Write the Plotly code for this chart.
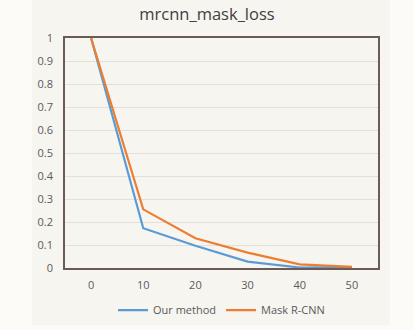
import plotly.graph_objects as go

epochs = [0, 10, 20, 30, 40, 50]
our_method = [1.0, 0.173, 0.097, 0.028, 0.002, 0.004]
mask_rcnn = [1.0, 0.255, 0.129, 0.067, 0.016, 0.005]
y_ticks = [0, 0.1, 0.2, 0.3, 0.4, 0.5, 0.6, 0.7, 0.8, 0.9, 1]

FONT = "Open Sans, Liberation Sans, sans-serif"
TICK_FONT = dict(family=FONT, size=11, color="#5a5a5a")

fig = go.Figure()
fig.add_trace(go.Scatter(x=epochs, y=our_method, mode="lines", name="Our method",
                         line=dict(color="#5B9BD5", width=2.2)))
fig.add_trace(go.Scatter(x=epochs, y=mask_rcnn, mode="lines", name="Mask R-CNN",
                         line=dict(color="#ED7D31", width=2.2)))

fig.update_layout(
    width=414, height=330,
    margin=dict(l=65, r=36, t=38, b=62, autoexpand=False),
    paper_bgcolor="#fcfbf8",
    plot_bgcolor="#f7f5f0",
    title=dict(text="mrcnn_mask_loss", x=0.5, xanchor="center", y=0.957, yanchor="middle",
               font=dict(family=FONT, size=16.5, color="#404040")),
    showlegend=True,
    legend=dict(orientation="h", x=0.5, xanchor="center", y=-0.183, yanchor="middle",
                font=dict(family=FONT, size=11, color="#595959"),
                bgcolor="rgba(0,0,0,0)", itemwidth=30),
    shapes=[dict(type="rect", xref="paper", yref="paper", x0=-0.105, x1=1.038,
                 y0=-0.248, y1=1.165, fillcolor="#f7f5f0", line=dict(width=0),
                 layer="below")],
)
fig.update_xaxes(range=[-5, 55], tickvals=epochs, ticktext=[str(e) for e in epochs],
                 showgrid=False, zeroline=False, showline=True, mirror=True,
                 linecolor="#6b5a55", linewidth=1.5, ticks="", ticklabelstandoff=6,
                 tickfont=TICK_FONT)
fig.update_yaxes(range=[0, 1], tickvals=y_ticks, ticktext=[f"{v:g}" for v in y_ticks],
                 showgrid=True, gridcolor="#e3e0da", gridwidth=1, zeroline=False,
                 showline=True, mirror=True, linecolor="#6b5a55", linewidth=1.5, ticks="",
                 ticklabelstandoff=8, tickfont=TICK_FONT)

fig.write_html("out.html")
